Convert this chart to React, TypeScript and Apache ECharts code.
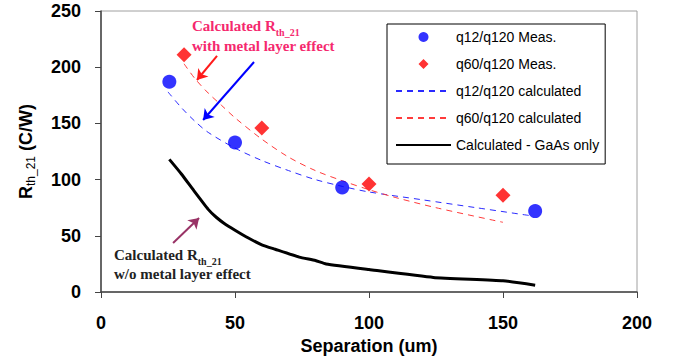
import React, { useEffect, useRef } from "react";
import * as echarts from "echarts";

// ---- Data ----
const xTicks = [0, 50, 100, 150, 200];
const yTicks = [0, 50, 100, 150, 200, 250];

const q12MeasX = [25.5, 50, 90, 162];
const q12MeasY = [187, 133, 93, 72];

const q60MeasX = [31, 60, 100, 150];
const q60MeasY = [211, 146, 96, 86];

const q12CalcX = [25, 30, 35, 40, 50, 60, 70, 80, 90, 100, 120, 140, 160];
const q12CalcY = [178, 164, 152, 142, 128, 117, 108, 100, 94, 89, 82, 75, 68];

const q60CalcX = [31, 35, 40, 45, 50, 60, 70, 80, 90, 100, 110, 125, 150];
const q60CalcY = [203, 190, 177, 166, 155, 136, 120, 108, 99, 91, 84, 75, 62];

const gaasX = [25.5, 30, 35, 40, 43, 46, 50, 55, 60, 65, 74, 80, 84, 100, 124, 150, 162];
const gaasY = [118, 105, 89, 73.5, 66.5, 61, 55, 48, 42, 38, 31, 28, 25, 20, 13, 10, 6];

const seriesNames = [
  "q12/q120 Meas.",
  "q60/q120 Meas.",
  "q12/q120 calculated",
  "q60/q120 calculated",
  "Calculated - GaAs only",
];

// annotation arrows in data coordinates: [x1, y1, x2, y2]
const redArrow = [43.3, 210, 35.8, 188.6];
const blueArrow = [57.1, 204.6, 38.1, 153];
const purpleArrow = [26.9, 43.6, 36.6, 65.8];

const zip = (xs: number[], ys: number[]) => xs.map((x, i) => [x, ys[i]]);

const SANS = '"Liberation Sans", Arial, sans-serif';
const SERIF = '"Liberation Serif", "Times New Roman", serif';

// legend diamond padded to the 55x10 icon box so it is not stretched
const LEGEND_DIAMOND =
  "path://M0,0L0.01,0M22.5,5L27.5,0L32.5,5L27.5,10ZM55,10L54.99,10";

export default function App() {
  const ref = useRef<HTMLDivElement>(null);

  useEffect(() => {
    if (!ref.current) return;
    const chart = echarts.init(ref.current, undefined, { renderer: "svg" });

    const arrow = (a: number[], color: string) => [
      { coord: [a[0], a[1]], lineStyle: { color, width: 2, type: "solid" } },
      { coord: [a[2], a[3]] },
    ];

    const option: any = {
      animation: false,
      backgroundColor: "#ffffff",
      grid: {
        left: 101,
        right: 46,
        top: 11,
        bottom: 70,
        show: true,
        borderColor: "#a0a0a0",
        borderWidth: 1,
      },
      xAxis: {
        type: "value",
        min: xTicks[0],
        max: xTicks[xTicks.length - 1],
        interval: 50,
        name: "Separation (um)",
        nameLocation: "middle",
        nameGap: 42,
        nameTextStyle: { fontFamily: SANS, fontWeight: "bold", fontSize: 18, color: "#000" },
        axisLine: { show: true, lineStyle: { color: "#444", width: 1.5 } },
        axisTick: { show: true, inside: false, length: 6, lineStyle: { color: "#444" } },
        axisLabel: { margin: 22, fontFamily: SANS, fontWeight: "bold", fontSize: 18, color: "#000" },
        splitLine: { show: false },
      },
      yAxis: {
        type: "value",
        min: yTicks[0],
        max: yTicks[yTicks.length - 1],
        interval: 50,
        name: "{r|R}{s|th_21}{n| (C/W)}",
        nameLocation: "middle",
        nameGap: 64,
        nameTextStyle: {
          rich: {
            r: { fontFamily: SANS, fontWeight: "bold", fontSize: 18, color: "#000", verticalAlign: "top", lineHeight: 20 },
            s: { fontFamily: SANS, fontWeight: "normal", fontSize: 12, color: "#000", verticalAlign: "top", padding: [8, 0, 0, 0] },
            n: { fontFamily: SANS, fontWeight: "bold", fontSize: 18, color: "#000", verticalAlign: "top", lineHeight: 20 },
          },
        },
        axisLine: { show: true, lineStyle: { color: "#444", width: 1.5 } },
        axisTick: { show: true, inside: false, length: 6, lineStyle: { color: "#444" } },
        axisLabel: { margin: 20, fontFamily: SANS, fontWeight: "bold", fontSize: 18, color: "#000" },
        splitLine: { show: false },
      },
      legend: {
        orient: "vertical",
        left: 387,
        top: 24,
        data: [
          { name: seriesNames[0], icon: "circle" },
          { name: seriesNames[1], icon: LEGEND_DIAMOND },
          { name: seriesNames[2], itemStyle: { opacity: 0 } },
          { name: seriesNames[3], itemStyle: { opacity: 0 } },
          { name: seriesNames[4], itemStyle: { opacity: 0 } },
        ],
        itemWidth: 55,
        itemHeight: 10,
        itemGap: 13,
        padding: [6, 6, 12, 8],
        borderColor: "#000",
        borderWidth: 1,
        backgroundColor: "#fff",
        textStyle: { fontFamily: SANS, fontSize: 14, color: "#000" },
      },
      series: [
        {
          name: seriesNames[0],
          type: "scatter",
          data: zip(q12MeasX, q12MeasY),
          symbol: "circle",
          symbolSize: 14,
          itemStyle: { color: "#0000ff" },
          z: 5,
        },
        {
          name: seriesNames[1],
          type: "scatter",
          data: zip(q60MeasX, q60MeasY),
          symbol: "diamond",
          symbolSize: 15,
          itemStyle: { color: "#ff0000" },
          z: 5,
        },
        {
          name: seriesNames[2],
          type: "line",
          data: zip(q12CalcX, q12CalcY),
          showSymbol: false,
          symbol: "none",
          smooth: 0.3,
          lineStyle: { color: "#2a2aff", width: 1, type: [6, 5] },
          itemStyle: { color: "#2a2aff" },
          z: 3,
        },
        {
          name: seriesNames[3],
          type: "line",
          data: zip(q60CalcX, q60CalcY),
          showSymbol: false,
          symbol: "none",
          smooth: 0.3,
          lineStyle: { color: "#ff3b3b", width: 1, type: [6, 5] },
          itemStyle: { color: "#ff3b3b" },
          z: 3,
        },
        {
          name: seriesNames[4],
          type: "line",
          data: zip(gaasX, gaasY),
          showSymbol: false,
          symbol: "none",
          smooth: 0.15,
          lineStyle: { color: "#000", width: 3 },
          itemStyle: { color: "#000" },
          z: 3,
          markLine: {
            silent: true,
            symbol: ["none", "arrow"],
            symbolSize: 10,
            label: { show: false },
            lineStyle: { type: "solid", width: 2 },
            data: [
              arrow(redArrow, "#ff1a1a"),
              arrow(blueArrow, "#0000ff"),
              arrow(purpleArrow, "#993366"),
            ],
          },
        },
      ],
      graphic: [
        {
          type: "text",
          left: 192,
          top: 18,
          z: 100,
          style: {
            text: "{a|Calculated R}{s|th_21}\n{a|with metal layer effect}",
            fill: "#f5286e",
            rich: {
              a: { fontFamily: SERIF, fontWeight: "bold", fontSize: 15, fill: "#f5286e", lineHeight: 20, verticalAlign: "top" },
              s: { fontFamily: SERIF, fontWeight: "bold", fontSize: 10, fill: "#f5286e", verticalAlign: "top", padding: [9, 0, 0, 0] },
            },
          },
        },
        {
          type: "text",
          left: 114,
          top: 247,
          z: 100,
          style: {
            text: "{a|Calculated R}{s|th_21}\n{a|w/o metal layer effect}",
            fill: "#222",
            rich: {
              a: { fontFamily: SERIF, fontWeight: "bold", fontSize: 15, fill: "#222", lineHeight: 19, verticalAlign: "top" },
              s: { fontFamily: SERIF, fontWeight: "bold", fontSize: 10, fill: "#222", verticalAlign: "top", padding: [9, 0, 0, 0] },
            },
          },
        },
      ],
    };

    chart.setOption(option);
    return () => chart.dispose();
  }, []);

  return (
    <div
      ref={ref}
      style={{ position: "fixed", left: 0, top: 0, width: 683, height: 362, background: "#fff" }}
    />
  );
}
